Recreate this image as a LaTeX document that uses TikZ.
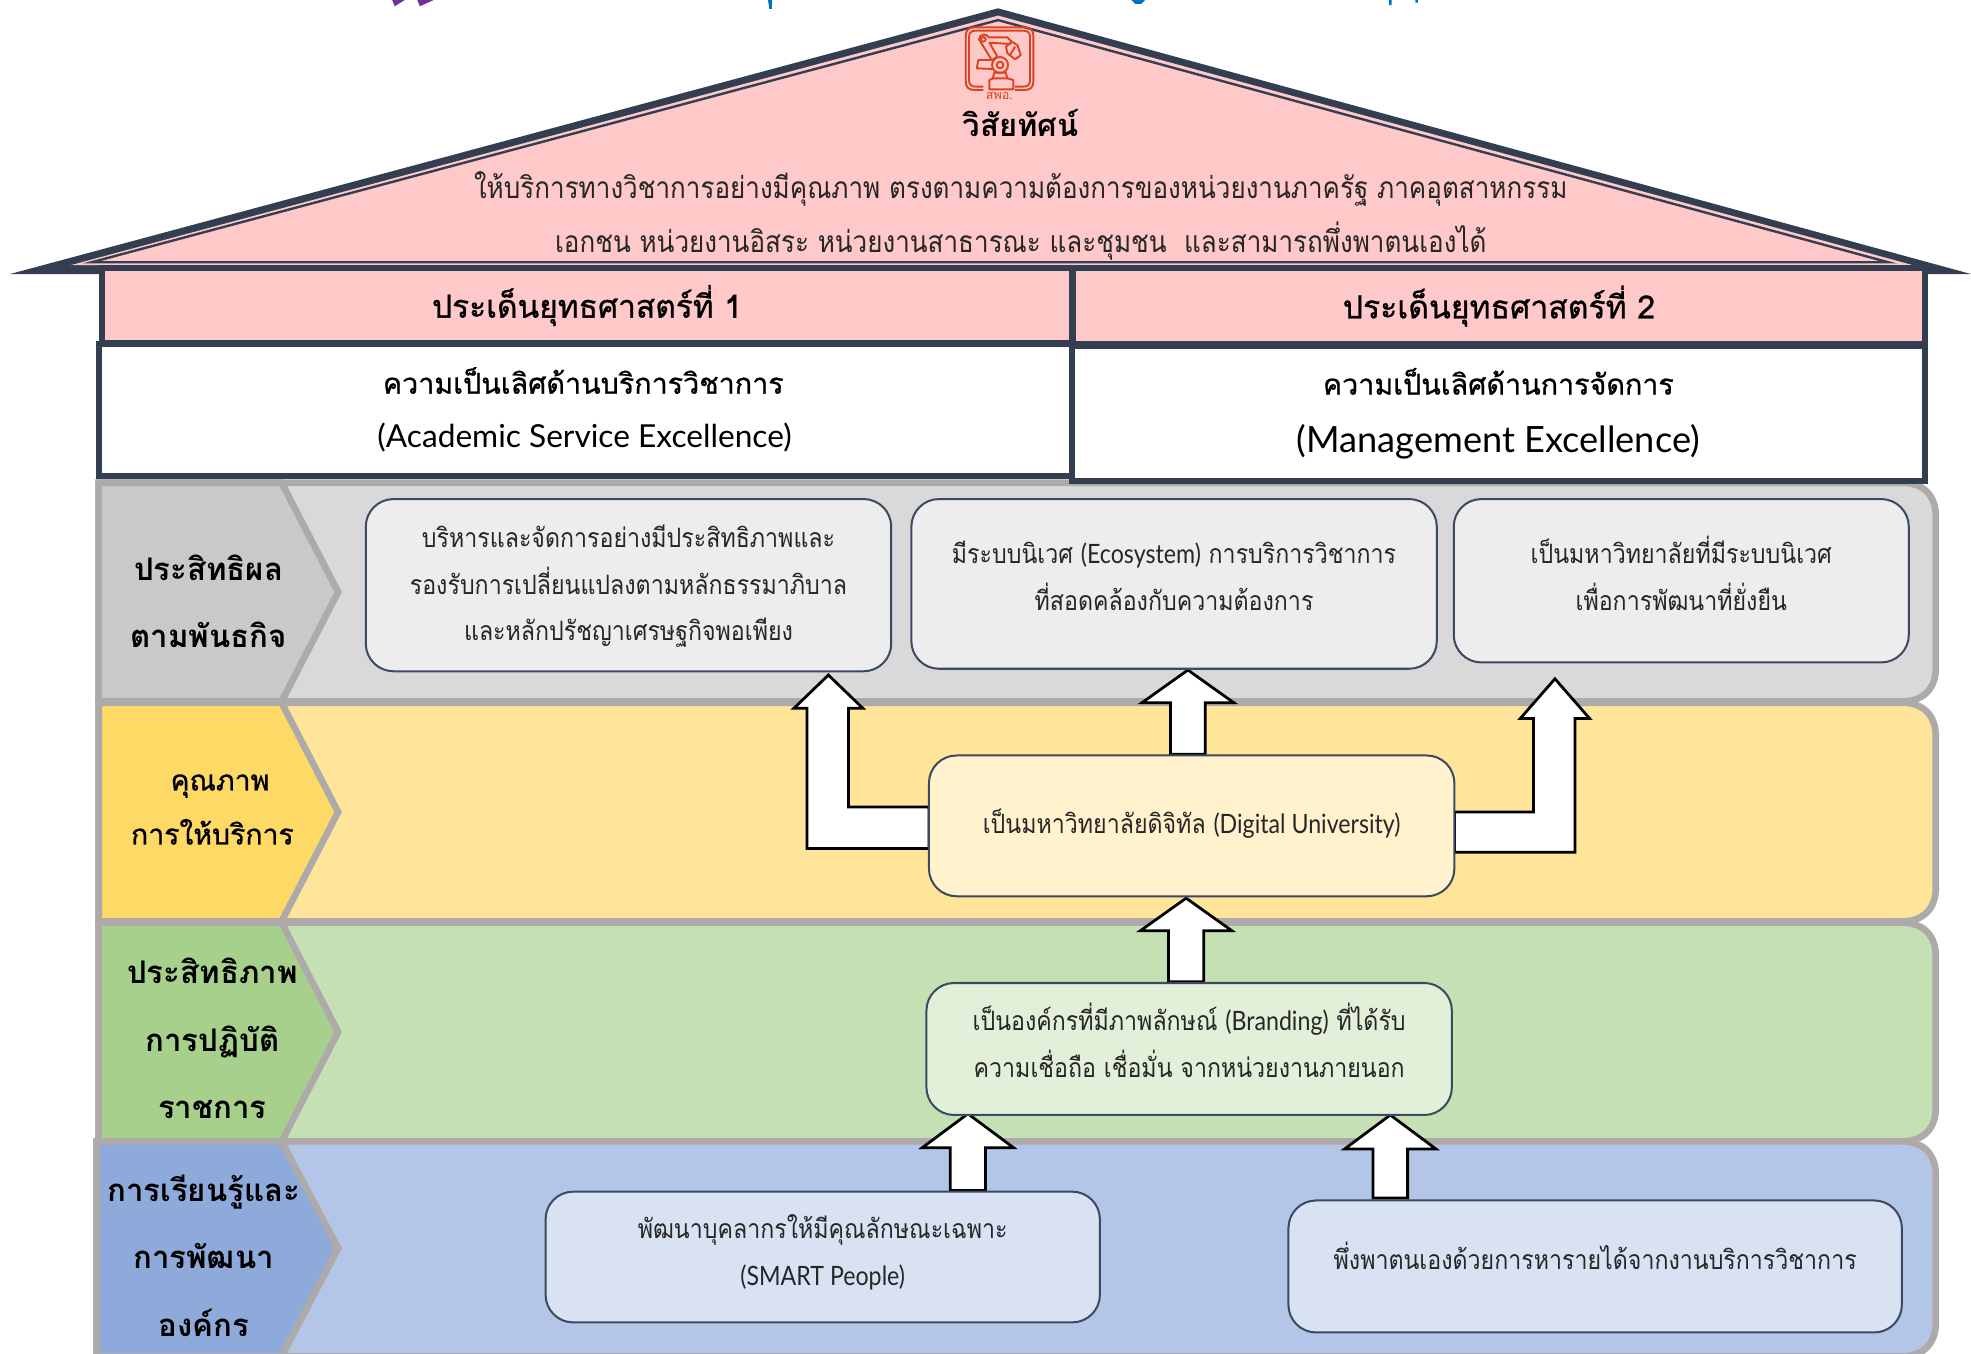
\documentclass[tikz,border=0pt]{standalone}
\usepackage{fontspec}
\usetikzlibrary{calc}
\newfontfamily\thaifont[Script=Thai]{Loma}
\newfontfamily\thainarrow[Script=Thai,FakeStretch=0.87]{Loma}
\newfontfamily\thaisemi[Script=Thai,FakeBold=0.9]{Loma}
\newfontfamily\latinnarrow[FakeStretch=0.87]{Lato}
\newfontfamily\latinwide{Lato}
\definecolor{roofdark}{HTML}{333F50}
\definecolor{roofpink}{HTML}{FFC9C9}
\definecolor{bandline}{HTML}{AEAAAA}
\definecolor{boxline}{HTML}{3B4A60}
\definecolor{logored}{HTML}{DB4320}
\definecolor{titlepurple}{HTML}{7030A0}
\definecolor{titleblue}{HTML}{0070C0}
\definecolor{bandgray}{HTML}{D9D9D9}\definecolor{chevgray}{HTML}{C9C9C9}\definecolor{boxgray}{HTML}{EDEDED}
\definecolor{bandyellow}{HTML}{FFE599}\definecolor{chevyellow}{HTML}{FFD966}\definecolor{boxyellow}{HTML}{FFF2CC}
\definecolor{bandgreen}{HTML}{C5E0B3}\definecolor{chevgreen}{HTML}{A8D08D}\definecolor{boxgreen}{HTML}{E2EFD9}
\definecolor{bandblue}{HTML}{B4C6E7}\definecolor{chevblue}{HTML}{8EAADB}\definecolor{boxblue}{HTML}{D9E2F3}
\tikzset{
  bandshape/.style={draw=bandline,line width=2.65pt,line join=miter},
  goalbox/.style={draw=boxline,line width=0.8pt,rounded corners=11pt,outer sep=0pt,inner sep=0pt,align=center,text=black!85},
  stratbox/.style={draw=roofdark,line width=2.4pt,outer sep=0pt,inner sep=0pt,align=center,text=black},
  blk/.style={draw=black,line width=1.1pt,fill=white,line join=miter,miter limit=10},
  boxtext/.style={font=\thainarrow\fontsize{10.6}{18.5}\selectfont},
  chevtext/.style={font=\thaifont\bfseries\fontsize{12.4}{26.7}\selectfont,align=center,inner sep=0pt,text=black},
  rooftext/.style={font=\thainarrow\fontsize{11.9}{21.5}\selectfont,align=center,inner sep=0pt,text=black!85},
  logoline/.style={draw=logored,line width=0.75pt,line join=round}
}
\newcommand{\boxlines}[2]{\raisebox{#1}[0pt][0pt]{\begin{tabular}{@{}c@{}}#2\end{tabular}}}
\newcommand{\lt}[1]{{\latinnarrow #1}}
% straight block arrow: base coordinate, tip coordinate, half shaft, half head, head length
\newcommand{\upblock}[5]{\draw[blk] ($(#1)+(-#3,0)$) -- ($(#2)+(-#3,#5)$) -- ($(#2)+(-#4,#5)$) -- (#2) -- ($(#2)+(#4,#5)$) -- ($(#2)+(#3,#5)$) -- ($(#1)+(#3,0)$) -- cycle;}
\newcommand{\bandrow}[6]{%
  \draw[bandshape,fill=#4] (#6,#1) -- (1513,#1) .. controls (1530,#1) and (1540,#1+10) .. (1540,#1+27) -- (1540,#2-27) .. controls (1540,#2-10) and (1530,#2) .. (1513,#2) -- (#6,#2) -- cycle;
  \draw[bandshape,fill=#5] (#6,#1) -- (224,#1) -- (269,#3) -- (224,#2) -- (#6,#2) -- cycle;}
\begin{document}
\begin{tikzpicture}[x=0.5pt,y=-0.5pt]
\useasboundingbox (0,0) rectangle (1568,1077);
\clip (0,0) rectangle (1568,1077);
% clipped remains of the title above the house
\fill[titlepurple] (312,0) -- (322,0) -- (314,5) -- cycle (332,0) -- (345,0) -- (334,5) -- cycle;
\fill[titleblue] (611,0) -- (614,0) -- (614,7) -- (612,7) -- cycle (900,0) -- (911,0) -- (908,3) -- (903,3) -- cycle (1105,0) -- (1107,0) -- (1107,4) -- (1105,4) -- cycle (1126,0) -- (1128,0) -- (1128,2) -- (1126,2) -- cycle;
% roof
\fill[roofdark] (794,6.6) -- (1568,218) -- (8,218) -- cycle;
\fill[roofpink] (794,12.4) -- (1522,211) -- (56,211) -- cycle;
\draw[roofdark,line width=0.95pt,fill=roofpink,line join=miter] (794,16) -- (1502,208.6) -- (73,208.6) -- cycle;
% logo
\begin{scope}[shift={(716,0)},x=0.1326pt,y=-0.1326pt]
\draw[logoline] (250,270) -- (225,270) .. controls (205,270) and (197,262) .. (197,242) -- (197,110) .. controls (197,90) and (205,82) .. (225,82) -- (372,82) .. controls (392,82) and (400,90) .. (400,110) -- (400,242) .. controls (400,262) and (392,270) .. (372,270) -- (345,270);
\draw[logoline] (250,260) -- (228,260) .. controls (213,260) and (207,254) .. (207,240) -- (207,112) .. controls (207,98) and (213,92) .. (228,92) -- (369,92) .. controls (384,92) and (390,98) .. (390,112) -- (390,240) .. controls (390,254) and (384,260) .. (369,260) -- (345,260);
\draw[logoline] (237,118) .. controls (237,100) and (262,100) .. (266,112) -- (322,112) -- (335,125) -- (330,132) -- (268,128) -- (292,170) -- (275,180) -- cycle;
\draw[logoline] (250,118) circle[radius=7];
\draw[logoline] (300,195) circle[radius=24];
\draw[logoline] (300,195) circle[radius=10];
\draw[logoline] (275,180) -- (235,180) -- (230,205) -- (280,207);
\draw[logoline] (283,218) -- (317,218) -- (322,235) -- (278,235) -- cycle;
\draw[logoline] (278,235) -- (268,240) -- (268,268) -- (340,268) -- (340,240) -- (322,235);
\draw[logoline] (335,125) -- (352,135) -- (362,165) -- (345,178) -- (322,160) -- (318,140) -- cycle;
\draw[logoline] (345,140) -- (330,165);
\end{scope}
\node[font=\thaifont\fontsize{5}{6}\selectfont,text=logored,inner sep=0pt] (logotext) at (795,76) {สพอ.};
\node[font=\thaifont\bfseries\fontsize{12.3}{14}\selectfont,inner sep=0pt] (visiontitle) at (812,98) {วิสัยทัศน์};
\node[rooftext] (vision) at (812,172) {ให้บริการทางวิชาการอย่างมีคุณภาพ ตรงตามความต้องการของหน่วยงานภาครัฐ ภาคอุตสาหกรรม\\เอกชน หน่วยงานอิสระ หน่วยงานสาธารณะ และชุมชน~ และสามารถพึ่งพาตนเองได้};
% bands
\bandrow{384}{558}{471}{bandgray}{chevgray}{78.5}
\bandrow{559}{733}{646}{bandyellow}{chevyellow}{78.5}
\bandrow{734}{908}{821}{bandgreen}{chevgreen}{78.5}
\bandrow{908}{1079}{993}{bandblue}{chevblue}{77}
% strategy headers
\node[stratbox,fill=roofpink,minimum width=386pt,minimum height=30pt,font=\thaisemi\fontsize{12.6}{14}\selectfont] (s1) at (467,243) {ประเด็นยุทธศาสตร์ที่ 1};
\node[stratbox,fill=roofpink,minimum width=339pt,minimum height=30.5pt,font=\thaisemi\fontsize{12.7}{14}\selectfont] (s2) at (1192.5,243.5) {ประเด็นยุทธศาสตร์ที่ 2};
\node[stratbox,fill=white,minimum width=387pt,minimum height=52.5pt,font=\thaisemi\fontsize{11.4}{21.5}\selectfont] (e1) at (466,326) {\hspace*{-2pt}ความเป็นเลิศด้านบริการวิชาการ\\{\latinwide\fontsize{12.6}{21.5}\selectfont\hspace*{-1pt}(Academic Service Excellence)}};
\node[stratbox,fill=white,minimum width=339pt,minimum height=53.5pt,font=\thaisemi\fontsize{11.4}{23}\selectfont] (e2) at (1192,329) {ความเป็นเลิศด้านการจัดการ\\{\latinwide\fontsize{14.4}{23}\selectfont (Management Excellence)}};
% chevron labels
\node[chevtext] (c1) at (166,478) {ประสิทธิผล\\ตามพันธกิจ};
\node[chevtext,font=\thaisemi\fontsize{11.3}{21.5}\selectfont] (c2) at (169,644) {\hspace*{6pt}คุณภาพ\\การให้บริการ};
\node[chevtext] (c3) at (169,826) {ประสิทธิภาพ\\การปฏิบัติ\\ราชการ};
\node[chevtext] (c4) at (162,999) {การเรียนรู้และ\\การพัฒนา\\องค์กร};
% node anchors for the block arrows are set by the boxes, so lay boxes out first (invisible)
\path
 (500,465.5) node[minimum width=209pt,minimum height=68.5pt,inner sep=0pt,outer sep=0pt] (b1) {}
 (934,464.5) node[minimum width=209pt,minimum height=67.5pt,inner sep=0pt,outer sep=0pt] (b2) {}
 (1337.5,462) node[minimum width=181pt,minimum height=65pt,inner sep=0pt,outer sep=0pt] (b3) {}
 (948,657) node[minimum width=209pt,minimum height=56pt,inner sep=0pt,outer sep=0pt] (b4) {}
 (946,834.5) node[minimum width=209pt,minimum height=52.5pt,inner sep=0pt,outer sep=0pt] (b5) {}
 (654.5,1000) node[minimum width=220.5pt,minimum height=52pt,inner sep=0pt,outer sep=0pt] (b6) {}
 (1269,1007.5) node[minimum width=244pt,minimum height=52.5pt,inner sep=0pt,outer sep=0pt] (b7) {};
% block arrows
\coordinate (t2) at ($(b2.south)+(11,1)$);
\upblock{$(t2|-b4.north)+(0,-1)$}{t2}{13.8}{36.5}{26}
\coordinate (t45) at ($(b4.south)+(-4.4,1.5)$);
\upblock{$(t45|-b5.north)+(0,-1)$}{t45}{14}{36.5}{26}
\coordinate (t6) at ($(b5.south)+(-176,-1)$);
\upblock{$(t6|-b6.north)+(0,-1)$}{t6}{14}{36.3}{27}
\coordinate (t7) at ($(b5.south)+(160,0)$);
\upblock{$(t7|-b7.north)+(0,-2)$}{t7}{13.8}{36.3}{27}
\coordinate (t1) at ($(b1.south)+(159,3)$);
\draw[blk] ($(b4.west)+(0,-15)$) -- ($(b4.west)+(-64,-15)$) |- ($(t1)+(16.5,26.5)$) -- ($(t1)+(27.5,26.5)$) -- (t1) -- ($(t1)+(-27.5,26.5)$) -- ($(t1)+(-17,26.5)$) |- ($(b4.west)+(0,18)$) -- cycle;
\coordinate (t3) at ($(b3.south)+(-100.5,13)$);
\draw[blk] ($(b4.east)+(0,-11)$) -- ($(b4.east)+(63,-11)$) -- ($(t3)+(-17,31.5)$) -- ($(t3)+(-27.5,31.5)$) -- (t3) -- ($(t3)+(27.5,31.5)$) -- ($(t3)+(16,31.5)$) -- ($(b4.east)+(96,21)$) -- ($(b4.east)+(0,21)$) -- cycle;
% goal boxes
\node[goalbox,boxtext,fill=boxgray,minimum width=209pt,minimum height=68.5pt] (gb1) at (b1) {\boxlines{-2.75pt}{บริหารและจัดการอย่างมีประสิทธิภาพและ\\รองรับการเปลี่ยนแปลงตามหลักธรรมาภิบาล\\และหลักปรัชญาเศรษฐกิจพอเพียง}};
\node[goalbox,boxtext,fill=boxgray,minimum width=209pt,minimum height=67.5pt] (gb2) at (b2) {\boxlines{-0.25pt}{มีระบบนิเวศ \lt{(Ecosystem)} การบริการวิชาการ\\ที่สอดคล้องกับความต้องการ}};
\node[goalbox,boxtext,fill=boxgray,minimum width=181pt,minimum height=65pt] (gb3) at (b3) {\boxlines{-1.5pt}{เป็นมหาวิทยาลัยที่มีระบบนิเวศ\\เพื่อการพัฒนาที่ยั่งยืน}};
\node[goalbox,boxtext,fill=boxyellow,minimum width=209pt,minimum height=56pt] (gb4) at (b4) {\boxlines{-2pt}{เป็นมหาวิทยาลัยดิจิทัล \lt{(Digital University)}}};
\node[goalbox,boxtext,fill=boxgreen,minimum width=209pt,minimum height=52.5pt] (gb5) at (b5) {\boxlines{-1pt}{เป็นองค์กรที่มีภาพลักษณ์ \lt{(Branding)} ที่ได้รับ\\ความเชื่อถือ เชื่อมั่น จากหน่วยงานภายนอก}};
\node[goalbox,boxtext,fill=boxblue,minimum width=220.5pt,minimum height=52pt] (gb6) at (b6) {\boxlines{-1pt}{พัฒนาบุคลากรให้มีคุณลักษณะเฉพาะ\\\lt{(SMART People)}}};
\node[goalbox,boxtext,fill=boxblue,minimum width=244pt,minimum height=52.5pt] (gb7) at (b7) {\boxlines{-0.25pt}{พึ่งพาตนเองด้วยการหารายได้จากงานบริการวิชาการ}};
\end{tikzpicture}
\end{document}
